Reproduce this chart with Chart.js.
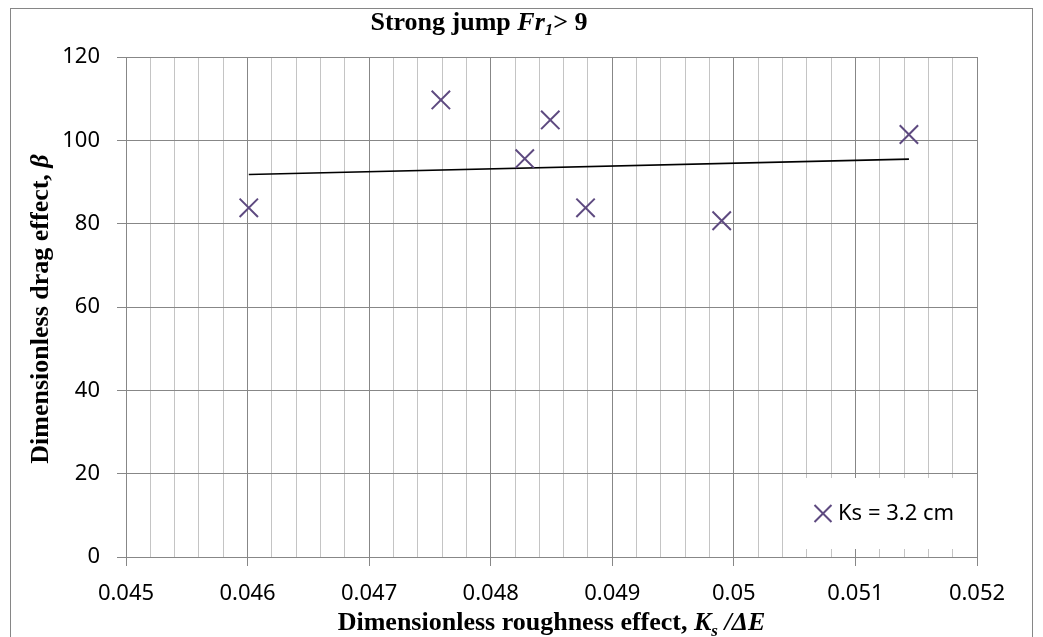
<!DOCTYPE html>
<html>
<head>
<meta charset="utf-8">
<script src="https://cdn.jsdelivr.net/npm/chart.js@4/dist/chart.umd.min.js"></script>
<style>
  html, body { margin: 0; padding: 0; background: #fff; }
  canvas { display: block; }
</style>
</head>
<body>
<canvas id="chart" width="1043" height="637"></canvas>
<script>
// 数据
const roughness = [0.04601, 0.04759, 0.04828, 0.04849, 0.04878, 0.04990, 0.05144];
const dragEffect = [83.8, 109.7, 95.6, 104.9, 83.8, 80.7, 101.4];
const trendX = [0.04601, 0.05144];
const trendY = [91.8, 95.5];
const xMajorTicks = [0.045, 0.046, 0.047, 0.048, 0.049, 0.05, 0.051, 0.052];
const yTicks = [0, 20, 40, 60, 80, 100, 120];
const seriesLabel = 'Ks = 3.2 cm';

const SERIF = '"Liberation Serif", "DejaVu Serif", serif';
const SANS = '"Noto Sans", "DejaVu Sans", sans-serif';
const purple = '#5E4A80';

function isMajor(v) {
    return xMajorTicks.find(m => Math.abs(m - v) < 1e-9);
}

// 画混合字体文本
function richWidth(ctx, parts) {
    let w = 0;
    parts.forEach(p => { ctx.font = p.font; w += ctx.measureText(p.text).width; });
    return w;
}
function drawRich(ctx, parts, x, y) {
    parts.forEach(p => {
        ctx.font = p.font;
        ctx.fillText(p.text, x, y + (p.dy || 0));
        x += ctx.measureText(p.text).width;
    });
}

const decorPlugin = {
    id: 'decor',
    beforeDraw(chart) {
        const ctx = chart.ctx;
        ctx.save();
        ctx.fillStyle = '#fff';
        ctx.fillRect(0, 0, chart.width, chart.height);
        ctx.restore();
    },
    afterDatasetsDraw(chart) {
        const ctx = chart.ctx;
        const area = chart.chartArea;
        ctx.save();
        ctx.fillStyle = '#000';
        ctx.textBaseline = 'alphabetic';

        // 标题
        const title = [
            { text: 'Strong jump ', font: 'bold 26px ' + SERIF },
            { text: 'Fr', font: 'italic bold 26px ' + SERIF },
            { text: '1', font: 'italic bold 17px ' + SERIF, dy: 5 },
            { text: '> 9', font: 'bold 26px ' + SERIF }
        ];
        drawRich(ctx, title, 479 - richWidth(ctx, title) / 2, 30);

        // x 轴标题
        const xTitle = [
            { text: 'Dimensionless roughness effect, ', font: 'bold 26px ' + SERIF },
            { text: 'K', font: 'italic bold 26px ' + SERIF },
            { text: 's', font: 'italic bold 17px ' + SERIF, dy: 6 },
            { text: ' /', font: 'italic bold 26px ' + SERIF },
            { text: 'ΔE', font: 'italic bold 26px ' + SERIF }
        ];
        const cx = (area.left + area.right) / 2;
        drawRich(ctx, xTitle, cx - richWidth(ctx, xTitle) / 2, 630);

        // y 轴标题
        const yTitle = [
            { text: 'Dimensionless drag effect, ', font: 'bold 26px ' + SERIF },
            { text: 'β', font: 'italic bold 26px ' + SERIF }
        ];
        ctx.save();
        ctx.translate(48, (area.top + area.bottom) / 2 + 2);
        ctx.rotate(-Math.PI / 2);
        drawRich(ctx, yTitle, -richWidth(ctx, yTitle) / 2, 0);
        ctx.restore();

        // 图例
        const ds = chart.data.datasets[0];
        const boxW = 194, boxH = 71;
        const bx = area.right - boxW, by = area.bottom - 8 - boxH;
        ctx.fillStyle = '#fff';
        ctx.fillRect(bx, by, boxW, boxH);
        const my = by + boxH / 2;
        ctx.strokeStyle = ds.borderColor;
        ctx.lineWidth = 2;
        Chart.helpers.drawPoint(ctx, { pointStyle: ds.pointStyle, radius: 12, rotation: 0, borderWidth: 2 }, bx + 40, my);
        ctx.fillStyle = '#000';
        ctx.font = '22px ' + SANS;
        ctx.textBaseline = 'middle';
        ctx.fillText(ds.label, bx + 55, my);

        // 外框
        ctx.strokeStyle = '#868686';
        ctx.lineWidth = 1;
        ctx.strokeRect(10.5, 8.5, 1022, 660);
        ctx.restore();
    }
};

new Chart(document.getElementById('chart'), {
    type: 'scatter',
    data: {
        datasets: [{
            label: seriesLabel,
            data: roughness.map((x, i) => ({ x: x, y: dragEffect[i] })),
            pointStyle: 'crossRot',
            pointRadius: 13,
            pointHoverRadius: 13,
            borderColor: purple,
            backgroundColor: purple,
            pointBorderWidth: 2,
            showLine: false
        }, {
            label: 'trend',
            data: trendX.map((x, i) => ({ x: x, y: trendY[i] })),
            showLine: true,
            borderColor: '#000',
            borderWidth: 1.6,
            pointRadius: 0,
            pointHoverRadius: 0
        }]
    },
    options: {
        responsive: false,
        animation: false,
        layout: { padding: { top: 57, right: 66, left: 0, bottom: 0 } },
        plugins: {
            legend: { display: false },
            title: { display: false },
            tooltip: { enabled: false }
        },
        scales: {
            x: {
                type: 'linear',
                min: xMajorTicks[0],
                max: xMajorTicks[xMajorTicks.length - 1],
                afterFit(scale) { scale.height = 80; },
                ticks: {
                    stepSize: 0.0002,
                    autoSkip: false,
                    maxRotation: 0,
                    padding: 15,
                    color: '#000',
                    font: { family: SANS, size: 22 },
                    callback(v) {
                        const m = isMajor(v);
                        return m !== undefined ? String(m) : '';
                    }
                },
                grid: {
                    color: ctx => (ctx.tick && isMajor(ctx.tick.value) !== undefined) ? '#878787' : '#C4C4C4',
                    tickColor: ctx => (ctx.tick && isMajor(ctx.tick.value) !== undefined) ? '#878787' : 'rgba(0,0,0,0)',
                    tickLength: 9,
                    lineWidth: 1
                },
                border: { color: '#878787', width: 1 }
            },
            y: {
                min: yTicks[0],
                max: yTicks[yTicks.length - 1],
                afterFit(scale) { scale.width = 126; },
                afterBuildTicks(scale) { scale.ticks = yTicks.map(v => ({ value: v })); },
                ticks: {
                    padding: 17,
                    color: '#000',
                    font: { family: SANS, size: 22 }
                },
                grid: {
                    color: '#878787',
                    tickColor: '#878787',
                    tickLength: 9,
                    lineWidth: 1
                },
                border: { color: '#878787', width: 1 }
            }
        }
    },
    plugins: [decorPlugin]
});
</script>
</body>
</html>
